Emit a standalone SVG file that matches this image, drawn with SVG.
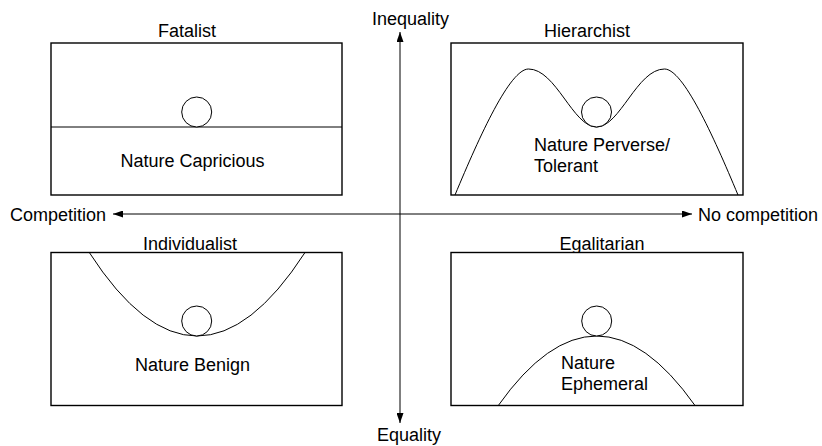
<svg xmlns="http://www.w3.org/2000/svg" width="822" height="446" viewBox="0 0 822 446">
  <style>
    text { font-family: "Liberation Sans", Arial, Helvetica, sans-serif; font-size: 18px; fill: #000; }
    .box { fill: #fff; stroke: #000; stroke-width: 1.4; }
    .curve { fill: none; stroke: #000; stroke-width: 1; }
    .ball { fill: #fff; stroke: #000; stroke-width: 1; }
    .axis { fill: none; stroke: #000; stroke-width: 1; marker-start: url(#arrow); marker-end: url(#arrow); }
    .mid { text-anchor: middle; }
  </style>
  <defs>
    <marker id="arrow" viewBox="0 0 10 7" refX="10" refY="3.5" markerWidth="10" markerHeight="7" markerUnits="userSpaceOnUse" orient="auto-start-reverse">
      <path d="M0,0 L10,3.5 L0,7 z" fill="#000"/>
    </marker>
  </defs>
  <rect width="822" height="446" fill="#fff"/>

  <g id="connectors">
    <line class="axis" x1="113" y1="214" x2="692" y2="214"/>
    <line class="axis" x1="400" y1="32" x2="400" y2="423"/>
  </g>

  <g id="axis-labels">
    <text x="372" y="25">Inequality</text>
    <text x="377" y="441">Equality</text>
    <text x="10" y="221">Competition</text>
    <text x="698" y="221">No competition</text>
  </g>

  <g id="fatalist">
    <text class="mid" x="187" y="37">Fatalist</text>
    <rect class="box" x="51" y="43" width="291" height="152"/>
    <line class="curve" x1="51" y1="127" x2="342" y2="127"/>
    <circle class="ball" cx="196.7" cy="112" r="15"/>
    <text class="mid" x="192.5" y="166.5">Nature Capricious</text>
  </g>

  <g id="hierarchist">
    <text class="mid" x="587" y="37">Hierarchist</text>
    <rect class="box" x="451" y="43" width="292" height="152"/>
    <path class="curve" d="M455,195 C480,135 510,69 528.5,69 C556,69 573,127 596.5,127 C620,127 637,69 664.5,69 C683,69 713,135 738,195"/>
    <circle class="ball" cx="596.5" cy="112" r="15"/>
    <text x="534" y="151">Nature Perverse/</text>
    <text x="534" y="172">Tolerant</text>
  </g>

  <g id="individualist">
    <text class="mid" x="190" y="249.5">Individualist</text>
    <rect class="box" x="51" y="252.5" width="291" height="153"/>
    <path class="curve" d="M89.3,252.5 Q197,419.5 305,252.5"/>
    <circle class="ball" cx="196.7" cy="321" r="15"/>
    <text class="mid" x="192.5" y="370.5">Nature Benign</text>
  </g>

  <g id="egalitarian">
    <text class="mid" x="602" y="249.5">Egalitarian</text>
    <rect class="box" x="451" y="252.5" width="292" height="153"/>
    <path class="curve" d="M498.3,405.5 Q596.7,266.5 695,405.5"/>
    <circle class="ball" cx="596.7" cy="321" r="15"/>
    <text x="561" y="369">Nature</text>
    <text x="561" y="390">Ephemeral</text>
  </g>
</svg>
